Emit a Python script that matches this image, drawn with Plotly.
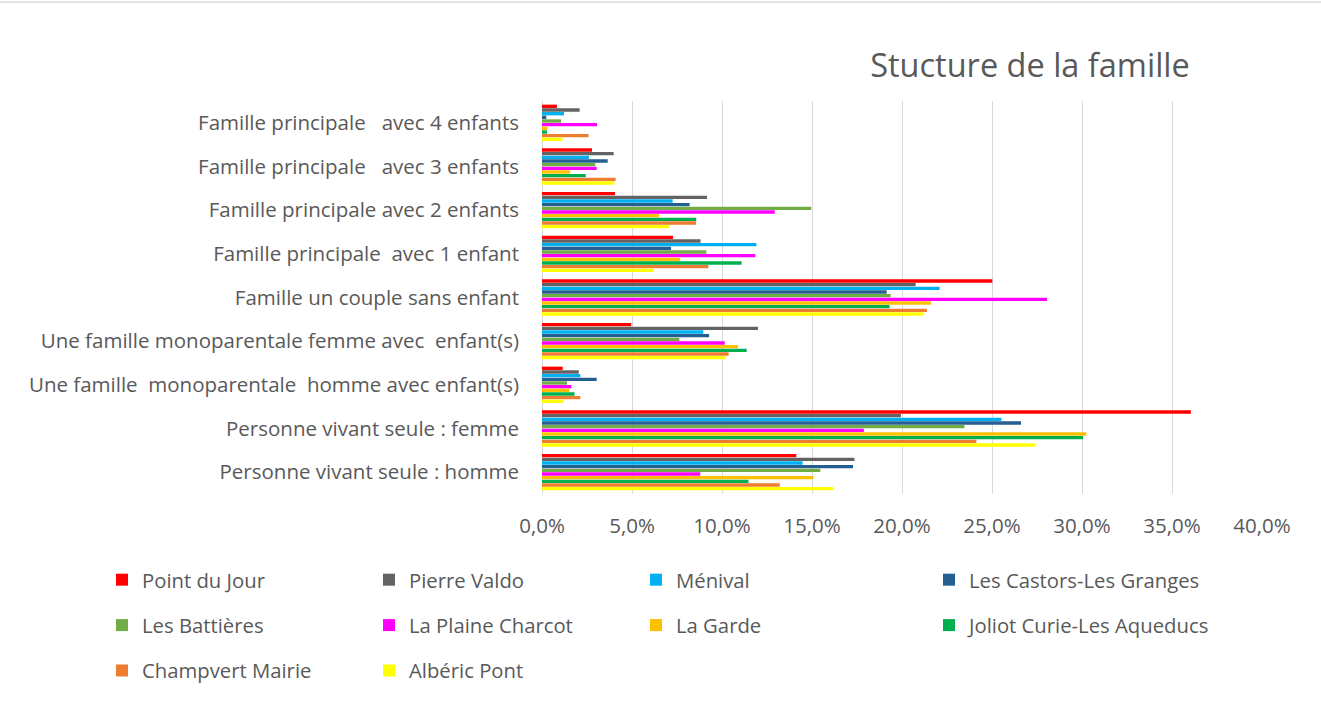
import plotly.graph_objects as go

NB = "\u00a0"

# Household categories, listed top to bottom
categories = [
    "Famille principale" + NB * 3 + "avec 4 enfants",
    "Famille principale" + NB * 3 + "avec 3 enfants",
    "Famille principale avec 2 enfants",
    "Famille principale" + NB * 2 + "avec 1 enfant",
    "Famille un couple sans enfant",
    "Une famille monoparentale femme avec" + NB * 2 + "enfant(s)",
    "Une famille" + NB * 2 + "monoparentale" + NB * 2 + "homme avec enfant(s)",
    "Personne vivant seule : femme",
    "Personne vivant seule : homme",
]

# Share of households (%) per neighbourhood, same order as categories
point_du_jour = [0.83, 2.78, 4.06, 7.28, 25.02, 4.96, 1.15, 36.05, 14.13]
pierre_valdo = [2.09, 3.98, 9.17, 8.81, 20.76, 12.00, 2.04, 19.94, 17.36]
menival = [1.22, 2.61, 7.26, 11.91, 22.09, 8.96, 2.13, 25.52, 14.48]
castors_granges = [0.24, 3.65, 8.20, 7.17, 19.15, 9.28, 3.04, 26.61, 17.28]
battieres = [1.06, 2.96, 14.96, 9.13, 19.37, 7.63, 1.39, 23.47, 15.46]
plaine_charcot = [3.06, 3.04, 12.93, 11.85, 28.06, 10.15, 1.63, 17.88, 8.79]
la_garde = [0.31, 1.56, 6.50, 7.67, 21.61, 10.89, 1.52, 30.24, 15.08]
joliot_curie = [0.28, 2.43, 8.57, 11.09, 19.31, 11.37, 1.81, 30.06, 11.47]
champvert = [2.59, 4.09, 8.56, 9.24, 21.39, 10.37, 2.13, 24.13, 13.21]
alberic_pont = [1.13, 4.02, 7.07, 6.20, 21.20, 10.20, 1.20, 27.40, 16.17]

tick_vals = [0, 5, 10, 15, 20, 25, 30, 35, 40]
tick_text = ["0,0%", "5,0%", "10,0%", "15,0%", "20,0%", "25,0%", "30,0%", "35,0%", "40,0%"]

series = [
    ("Point du Jour", point_du_jour, "#FF0000", "legend"),
    ("Pierre Valdo", pierre_valdo, "#636363", "legend2"),
    ("Ménival", menival, "#00B0F0", "legend3"),
    ("Les Castors-Les Granges", castors_granges, "#255E91", "legend4"),
    ("Les Battières", battieres, "#70AD47", "legend"),
    ("La Plaine Charcot", plaine_charcot, "#FF00FF", "legend2"),
    ("La Garde", la_garde, "#FFC000", "legend3"),
    ("Joliot Curie-Les Aqueducs", joliot_curie, "#00B050", "legend4"),
    ("Champvert Mairie", champvert, "#ED7D31", "legend"),
    ("Albéric Pont", alberic_pont, "#FFFF00", "legend2"),
]

FONT = "'Open Sans', Lato, sans-serif"
TEXT = "#595959"
FS_AXIS = 20.5
FS_LEG = 20.3

fig = go.Figure()
for name, vals, color, leg in series:
    fig.add_trace(go.Bar(
        y=categories, x=vals, name=name, orientation="h",
        marker=dict(color=color, line=dict(width=0)),
        legend=leg, legendgroup=name,
    ))

W, H = 1321, 703
L, R, T, B = 542, 59, 101, 209
plot_h = H - T - B

legend_common = dict(
    orientation="v", xref="container", yref="container",
    yanchor="top", xanchor="left",
    font=dict(family=FONT, size=FS_LEG, color=TEXT),
    tracegroupgap=16, bgcolor="rgba(0,0,0,0)", itemclick=False,
)
legend_y = 1 - 560 / H
fig.update_layout(
    width=W, height=H,
    paper_bgcolor="white", plot_bgcolor="white",
    font=dict(family=FONT, size=FS_AXIS, color=TEXT),
    barmode="group", bargap=0.16, bargroupgap=0.08,
    margin=dict(l=L, r=R, t=T, b=B, autoexpand=False),
    title=dict(
        text="Stucture de la famille", x=1030 / W, xanchor="center",
        y=1 - 66 / H, yanchor="middle", xref="container", yref="container",
        font=dict(family=FONT, size=32.5, color=TEXT),
    ),
    xaxis=dict(
        range=[0, 40], tickmode="array", tickvals=tick_vals, ticktext=tick_text,
        tickangle=0, automargin=False,
        showgrid=True, gridcolor="#D9D9D9", gridwidth=1.3,
        zeroline=True, zerolinecolor="#D9D9D9", zerolinewidth=1.3,
        showline=False, ticks="", ticklabelstandoff=17,
        tickfont=dict(family=FONT, size=FS_AXIS, color=TEXT),
    ),
    yaxis=dict(
        autorange="reversed", showgrid=False, showline=False, ticks="",
        automargin=False, ticklabelstandoff=22,
        tickfont=dict(family=FONT, size=FS_AXIS, color=TEXT),
    ),
    legend=dict(x=(118 - 16) / W, y=legend_y, **legend_common),
    legend2=dict(x=(385 - 16) / W, y=legend_y, **legend_common),
    legend3=dict(x=(652 - 16) / W, y=legend_y, **legend_common),
    legend4=dict(x=(945 - 16) / W, y=legend_y, **legend_common),
    showlegend=True,
    shapes=[dict(
        type="line", xref="paper", yref="paper",
        x0=-L / (W - L - R), x1=(W - L) / (W - L - R),
        y0=(H - B - 2) / plot_h, y1=(H - B - 2) / plot_h,
        line=dict(color="#D9D9D9", width=1.5),
    )],
)

fig.write_html("out.html")
